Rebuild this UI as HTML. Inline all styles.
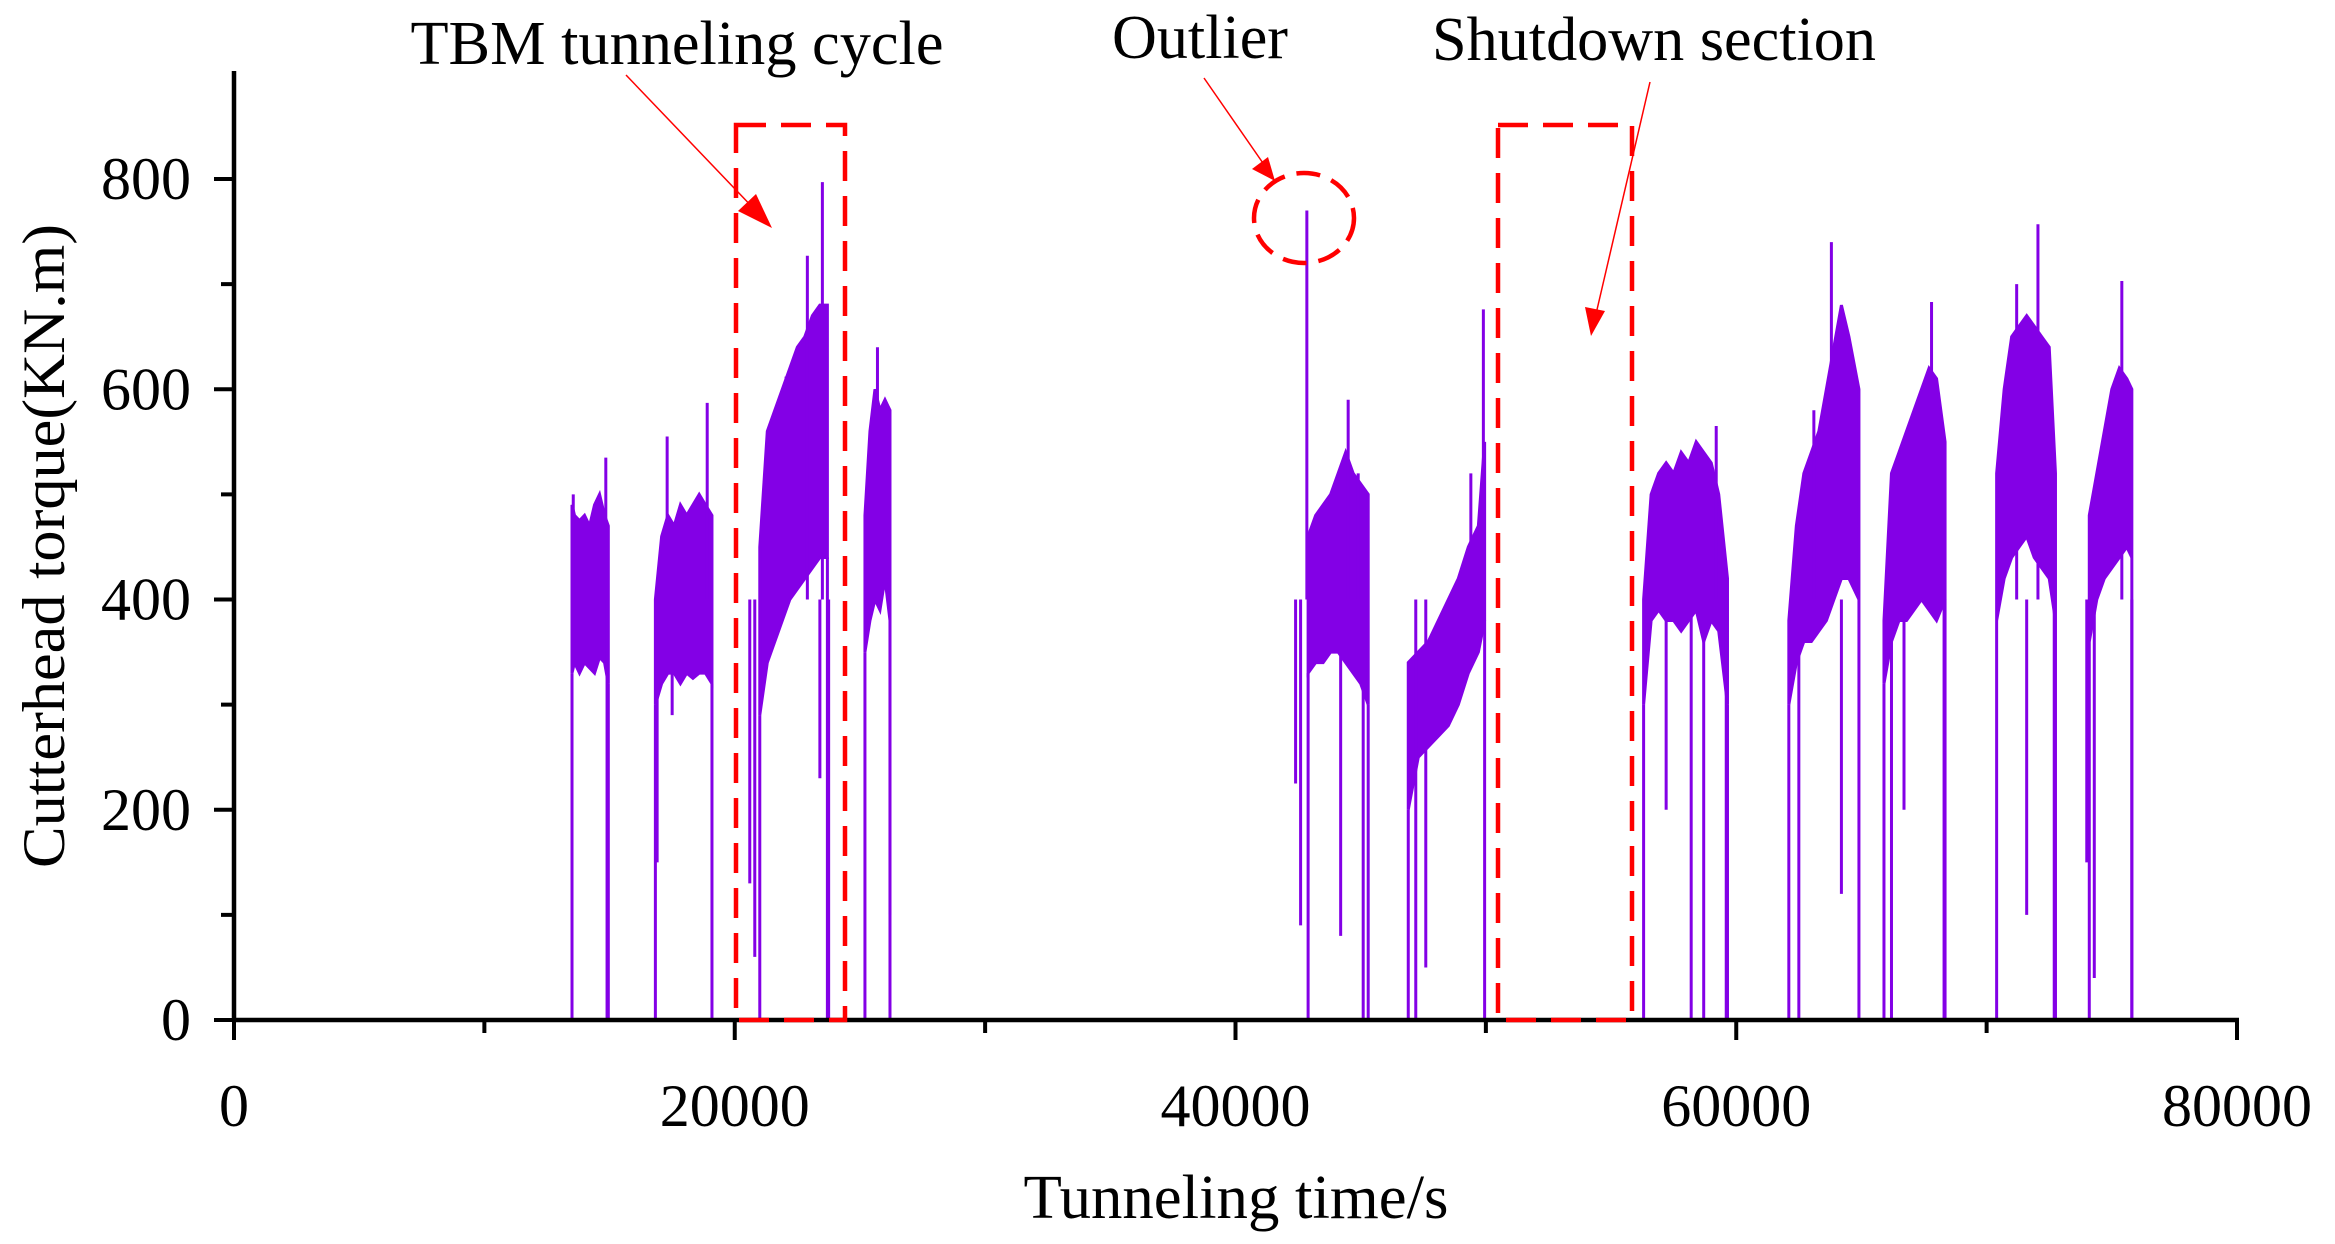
<!DOCTYPE html>
<html><head><meta charset="utf-8"><style>
html,body{margin:0;padding:0;background:#fff}
svg{display:block}
text{font-family:"Liberation Serif",serif;fill:#000}
</style></head><body>
<svg id="chart" width="2335" height="1244" viewBox="0 0 2335 1244" xmlns="http://www.w3.org/2000/svg">
<g id="marks"></g>
<g id="axes"></g>
<g id="annot">
  <text x="677" y="64" font-size="62" text-anchor="middle" textLength="533" lengthAdjust="spacingAndGlyphs">TBM tunneling cycle</text>
  <line x1="626" y1="75" x2="758" y2="213" stroke="#f00" stroke-width="1.5"/>
  <polygon points="772,228 738,211 756,194" fill="#f00"/>
  <rect x="736" y="125" width="109" height="895" fill="none" stroke="#f00" stroke-width="4.5" stroke-dasharray="30,15"/>
  <text x="1200" y="58" font-size="62" text-anchor="middle" textLength="176" lengthAdjust="spacingAndGlyphs">Outlier</text>
  <line x1="1204" y1="78" x2="1265" y2="166" stroke="#f00" stroke-width="1.5"/>
  <polygon points="1275,181 1252,169 1268,157" fill="#f00"/>
  <ellipse cx="1304" cy="218" rx="50" ry="45" fill="none" stroke="#f00" stroke-width="4.5" stroke-dasharray="24,12"/>
  <text x="1654" y="60" font-size="62" text-anchor="middle" textLength="444" lengthAdjust="spacingAndGlyphs">Shutdown section</text>
  <line x1="1650" y1="82" x2="1596" y2="314" stroke="#f00" stroke-width="1.5"/>
  <polygon points="1591,336 1585,307 1605,311" fill="#f00"/>
  <rect x="1498" y="125" width="134" height="895" fill="none" stroke="#f00" stroke-width="4.5" stroke-dasharray="30,15"/>
</g>
<text x="0" y="0" font-size="60" text-anchor="middle" transform="translate(64,546) rotate(-90)" textLength="644" lengthAdjust="spacingAndGlyphs">Cutterhead torque(KN.m)</text>
<text x="1236" y="1218" font-size="62" text-anchor="middle" textLength="425" lengthAdjust="spacingAndGlyphs">Tunneling time/s</text>
</svg>
<script>
const xTicks=[0,20000,40000,60000,80000];
const xMinor=[10000,30000,50000,70000];
const yTicks=[0,200,400,600,800];
const yMinor=[100,300,500,700];
const seg1T=[13500,13600,13800,14000,14200,14400,14600,14800,14950];
const seg1Hi=[490,480,475,480,470,490,500,480,470];
const seg1Lo=[330,340,330,340,335,330,345,340,320];
const seg2T=[16830,17080,17330,17580,17830,18080,18330,18580,18830,19090];
const seg2Hi=[400,460,480,470,490,480,490,500,490,480];
const seg2Lo=[300,320,330,330,320,330,325,330,330,320];
const seg3T=[21000,21300,21600,21900,22200,22500,22800,23100,23400,23700];
const seg3Hi=[450,560,580,600,620,640,650,670,680,680];
const seg3Lo=[290,340,360,380,400,410,420,430,440,440];
const seg4T=[25200,25400,25600,25800,26000,26200];
const seg4Hi=[480,560,600,580,590,580];
const seg4Lo=[350,380,400,390,420,380];
const seg5T=[42900,43200,43500,43800,44100,44400,44700,45000,45300];
const seg5Hi=[460,480,490,500,520,540,520,510,500];
const seg5Lo=[330,340,340,350,350,340,330,320,300];
const seg6T=[46900,47300,47700,48100,48500,48900,49300,49700,49950];
const seg6Hi=[340,350,360,380,400,420,450,470,550];
const seg6Lo=[200,250,260,270,280,300,330,350,380];
const seg7T=[56300,56600,56900,57200,57500,57800,58100,58400,58700,59000,59300,59650];
const seg7Hi=[400,500,520,530,520,540,530,550,540,530,500,420];
const seg7Lo=[300,380,390,380,380,370,380,390,360,380,370,300];
const seg8T=[62100,62400,62700,63000,63300,63600,63900,64200,64500,64900];
const seg8Hi=[380,470,520,540,560,600,640,680,650,600];
const seg8Lo=[300,340,360,360,370,380,400,420,420,400];
const seg9T=[65900,66200,66500,66800,67100,67400,67700,68000,68340];
const seg9Hi=[380,520,540,560,580,600,620,610,550];
const seg9Lo=[320,360,380,380,390,400,390,380,400];
const seg10T=[70400,70700,71000,71300,71600,71900,72200,72500,72750];
const seg10Hi=[520,600,650,660,670,660,650,640,520];
const seg10Lo=[380,420,440,450,460,440,430,420,380];
const seg11T=[74100,74400,74700,75000,75300,75600,75800];
const seg11Hi=[480,520,560,600,620,610,600];
const seg11Lo=[360,400,420,430,440,450,440];
const spikeT=[13550,14850,14900,16900,17300,17500,18900,20600,20800,22050,22900,23500,23400,23750,25700,26200,42400,42600,42850,44200,44500,44900,45100,47200,47600,49400,49900,57200,58200,58700,59200,59600,62500,63100,63800,64200,66200,66700,67800,68300,71200,71600,72050,72700,74000,74300,75400,75800];
const spikeV=[500,535,0,150,555,290,587,130,60,612,727,797,230,0,640,100,225,90,770,80,590,520,0,0,50,520,676,200,0,0,565,0,0,580,740,120,0,200,683,0,700,100,757,0,150,40,703,0];

const NS='http://www.w3.org/2000/svg';
const X=t=>234+t/80000*(2237-234);
const Y=v=>1020-v/800*(1020-179);
const marks=document.getElementById('marks');
const axes=document.getElementById('axes');
const col='#8300e6';
const segs=[[seg1T,seg1Hi,seg1Lo],[seg2T,seg2Hi,seg2Lo],[seg3T,seg3Hi,seg3Lo],[seg4T,seg4Hi,seg4Lo],[seg5T,seg5Hi,seg5Lo],[seg6T,seg6Hi,seg6Lo],[seg7T,seg7Hi,seg7Lo],[seg8T,seg8Hi,seg8Lo],[seg9T,seg9Hi,seg9Lo],[seg10T,seg10Hi,seg10Lo],[seg11T,seg11Hi,seg11Lo]];
segs.forEach((s,i)=>{
  const [T,H,L]=s;
  const pts=T.map((t,j)=>X(t)+','+Y(H[j])).concat(T.map((t,j)=>X(t)+','+Y(L[j])).reverse());
  const p=document.createElementNS(NS,'polygon');
  p.setAttribute('points',pts.join(' '));
  p.setAttribute('fill',col);p.setAttribute('stroke',col);p.setAttribute('stroke-width','3');
  
  
  marks.appendChild(p);
  [[T[0],L[0]],[T[T.length-1],L[L.length-1]]].forEach(e=>{
    const l=document.createElementNS(NS,'line');
    l.setAttribute('x1',X(e[0]));l.setAttribute('x2',X(e[0]));
    l.setAttribute('y1',Y(e[1]));l.setAttribute('y2',Y(0));
    l.setAttribute('stroke',col);l.setAttribute('stroke-width','3');
    
    
    marks.appendChild(l);
  });
});
spikeT.forEach((t,i)=>{
  const l=document.createElementNS(NS,'line');
  l.setAttribute('x1',X(t));l.setAttribute('x2',X(t));
  l.setAttribute('y1',Y(400));l.setAttribute('y2',Y(spikeV[i]));
  l.setAttribute('stroke',col);l.setAttribute('stroke-width','3');
  
  
  marks.appendChild(l);
});
function ln(x1,y1,x2,y2,w,name){
  const l=document.createElementNS(NS,'line');
  l.setAttribute('x1',x1);l.setAttribute('y1',y1);l.setAttribute('x2',x2);l.setAttribute('y2',y2);
  l.setAttribute('stroke','#000');l.setAttribute('stroke-width',w);
  
  
  axes.appendChild(l);
}
ln(234,71,234,1022,4.5,'y-axis-line');
ln(232,1020,2239,1020,4.5,'x-axis-line');
xTicks.forEach(t=>{
  ln(X(t),1020,X(t),1040,4,'x-tick');
  const tx=document.createElementNS(NS,'text');
  tx.setAttribute('x',X(t));tx.setAttribute('y',1126);tx.setAttribute('font-size','60');tx.setAttribute('text-anchor','middle');
  tx.textContent=t;
  
  
  axes.appendChild(tx);
});
xMinor.forEach(t=>ln(X(t),1020,X(t),1033,4,'x-minor-tick'));
yTicks.forEach(v=>{
  ln(214,Y(v),234,Y(v),4,'y-tick');
  const tx=document.createElementNS(NS,'text');
  tx.setAttribute('x',191);tx.setAttribute('y',Y(v)+20);tx.setAttribute('font-size','60');tx.setAttribute('text-anchor','end');
  tx.textContent=v;
  
  
  axes.appendChild(tx);
});
yMinor.forEach(v=>ln(221,Y(v),234,Y(v),4,'y-minor-tick'));
</script>
</body></html>
